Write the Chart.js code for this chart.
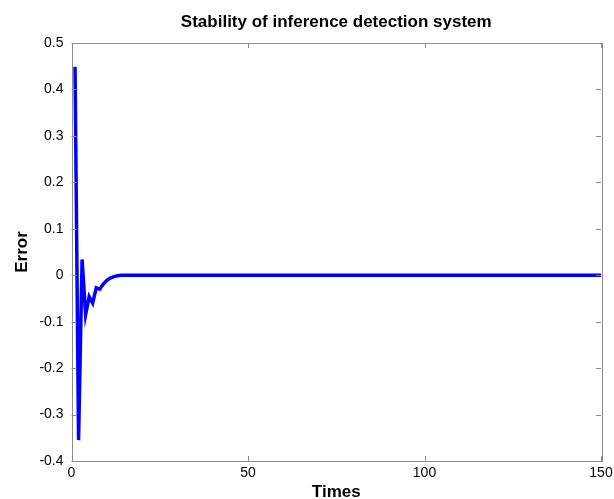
<!DOCTYPE html>
<html>
<head>
<meta charset="utf-8">
<script src="https://cdn.jsdelivr.net/npm/chart.js@4.4.1/dist/chart.umd.min.js"></script>
<style>
  html, body { margin: 0; padding: 0; background: #fff; }
  #wrap { width: 614px; height: 499px; }
</style>
</head>
<body>
<div id="wrap"><canvas id="plot" width="614" height="499"></canvas></div>
<script>
// values
const times = [1, 2, 3, 4, 5, 6, 7, 8, 9, 10, 11, 12, 13, 14, 15, 20, 50, 100, 150];
const errors = [0.449, -0.355, 0.034, -0.085, -0.046, -0.060, -0.027, -0.030, -0.019, -0.011, -0.006, -0.003, -0.001, 0, 0, 0, 0, 0, 0];
const xTicks = [0, 50, 100, 150];
const yTicks = [-0.4, -0.3, -0.2, -0.1, 0, 0.1, 0.2, 0.3, 0.4, 0.5];

const points = times.map((t, i) => ({ x: t, y: errors[i] }));

// matlab style box + inward ticks + title over the plot area
const boxPlugin = {
    id: 'box',
    afterDraw(chart) {
        const c = chart.ctx, a = chart.chartArea;
        const xs = chart.scales.x, ys = chart.scales.y;
        c.save();
        c.strokeStyle = '#8c8c8c';
        c.lineWidth = 1;
        c.beginPath();
        xTicks.forEach(v => {
            const px = Math.round(xs.getPixelForValue(v)) + 0.5;
            c.moveTo(px, a.bottom); c.lineTo(px, a.bottom - 5);
            c.moveTo(px, a.top); c.lineTo(px, a.top + 5);
        });
        yTicks.forEach(v => {
            const py = Math.round(ys.getPixelForValue(v)) + 0.5;
            c.moveTo(a.left, py); c.lineTo(a.left + 5, py);
            c.moveTo(a.right, py); c.lineTo(a.right - 5, py);
        });
        c.stroke();
        c.strokeRect(Math.round(a.left) + 0.5, Math.round(a.top) + 0.5,
                     Math.round(a.right - a.left), Math.round(a.bottom - a.top));
        c.fillStyle = '#000';
        c.font = 'bold 17px "Liberation Sans", Arial, sans-serif';
        c.textAlign = 'center';
        c.textBaseline = 'middle';
        c.fillText('Stability of inference detection system', (a.left + a.right) / 2, 22);
        c.restore();
    }
};

const ctx = document.getElementById('plot');

new Chart(ctx, {
    type: 'line',
    data: {
        datasets: [{
            label: 'Error',
            data: points,
            borderColor: '#0000ff',
            borderWidth: 3.5,
            pointRadius: 0,
            tension: 0,
            fill: false
        }]
    },
    options: {
        responsive: false,
        animation: false,
        layout: { padding: { top: 43, right: 13, bottom: 0, left: 0 } },
        scales: {
            x: {
                type: 'linear',
                min: 0,
                max: 150,
                afterBuildTicks: s => { s.ticks = xTicks.map(v => ({ value: v })); },
                afterFit: s => { s.height = 38; s.paddingRight = 0; },
                grid: { display: false, drawTicks: false },
                border: { display: false },
                ticks: {
                    color: '#000',
                    padding: 4,
                    maxRotation: 0,
                    font: { family: '"Liberation Sans", Arial, sans-serif', size: 14 }
                },
                title: {
                    display: true,
                    text: 'Times',
                    color: '#000',
                    padding: { top: 0, bottom: -4 },
                    font: { family: '"Liberation Sans", Arial, sans-serif', size: 17, weight: 'bold' }
                }
            },
            y: {
                min: -0.4,
                max: 0.5,
                afterBuildTicks: s => { s.ticks = yTicks.map(v => ({ value: v })); },
                afterFit: s => { s.width = 71.5; },
                grid: { display: false, drawTicks: false },
                border: { display: false },
                ticks: {
                    color: '#000',
                    padding: 8,
                    callback: v => Math.abs(v) < 1e-9 ? '0' : String(Math.round(v * 10) / 10),
                    font: { family: '"Liberation Sans", Arial, sans-serif', size: 14 }
                },
                title: {
                    display: true,
                    text: 'Error',
                    color: '#000',
                    padding: { top: 12, bottom: 0 },
                    font: { family: '"Liberation Sans", Arial, sans-serif', size: 17, weight: 'bold' }
                }
            }
        },
        plugins: {
            legend: { display: false },
            tooltip: { enabled: false }
        }
    },
    plugins: [boxPlugin]
});
</script>
</body>
</html>
